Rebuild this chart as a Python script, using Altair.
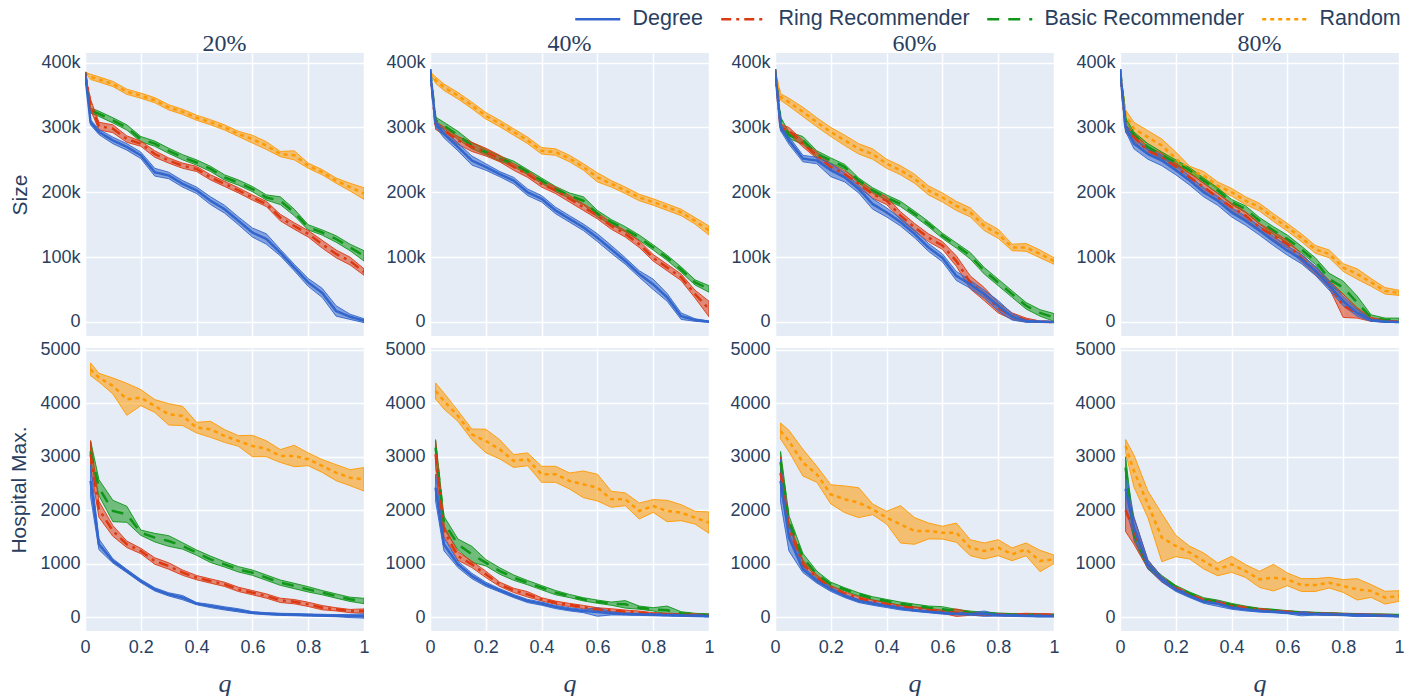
import altair as alt
import pandas as pd

# ---------------- data ----------------
q = [0.0, 0.02, 0.05, 0.1, 0.15, 0.2, 0.25, 0.3, 0.35, 0.4, 0.45, 0.5,
     0.55, 0.6, 0.65, 0.7, 0.75, 0.8, 0.85, 0.9, 0.95, 1.0]
methods = ["Degree", "Ring Recommender", "Basic Recommender", "Random"]
shares = ["20%", "40%", "60%", "80%"]
colors = ["#3366CC", "#DC3912", "#109618", "#FF9900"]
dashes = [[1, 0], [10, 5, 3, 5], [12, 9], [4, 4]]
size_ticks = [0, 100000, 200000, 300000, 400000]
hosp_ticks = [0, 1000, 2000, 3000, 4000, 5000]
x_ticks = [0, 0.2, 0.4, 0.6, 0.8, 1]

# Size (thousands)
size20_degree = [385, 308, 293, 280, 270, 257, 231, 226, 213, 203, 187, 174, 156, 138, 128, 107, 84, 61, 45, 17, 8, 2]
size20_degree_err = [0, 4, 4, 5, 5, 5, 6, 5, 5, 5, 6, 6, 6, 7, 8, 5, 5, 6, 7, 8, 4, 3]
size20_ring = [385, 335, 302, 298, 282, 275, 259, 249, 241, 236, 223, 213, 203, 192, 182, 161, 148, 136, 120, 105, 94, 77]
size20_ring_err = [0, 8, 6, 6, 5, 4, 5, 4, 4, 4, 4, 4, 4, 4, 4, 5, 5, 5, 6, 6, 6, 5]
size20_basic = [385, 326, 321, 311, 300, 282, 275, 264, 254, 246, 236, 223, 215, 205, 192, 187, 169, 146, 138, 128, 115, 102]
size20_basic_err = [0, 4, 4, 4, 4, 4, 4, 4, 4, 4, 4, 4, 4, 4, 4, 6, 5, 4, 4, 5, 5, 8]
size20_random = [385, 378, 374, 367, 355, 349, 342, 331, 324, 315, 308, 300, 290, 282, 272, 259, 257, 241, 231, 218, 208, 198]
size20_random_err = [0, 4, 4, 4, 4, 4, 4, 4, 4, 4, 4, 4, 4, 6, 6, 4, 7, 4, 4, 4, 6, 9]

size40_degree = [390, 306, 290, 270, 249, 239, 228, 218, 200, 190, 172, 159, 146, 130, 112, 94, 74, 58, 38, 9, 3, 0.5]
size40_degree_err = [0, 5, 6, 6, 7, 5, 4, 5, 5, 5, 5, 5, 5, 6, 6, 5, 5, 8, 6, 5, 2, 1]
size40_ring = [390, 303, 295, 280, 270, 262, 252, 239, 228, 213, 203, 190, 177, 164, 148, 136, 120, 99, 84, 69, 43, 20]
size40_ring_err = [0, 6, 6, 6, 7, 6, 5, 5, 5, 5, 5, 5, 5, 5, 5, 5, 5, 5, 5, 5, 6, 12]
size40_basic = [390, 311, 303, 288, 272, 262, 252, 244, 231, 218, 205, 195, 187, 167, 154, 143, 130, 115, 99, 81, 61, 51]
size40_basic_err = [0, 5, 5, 6, 5, 4, 4, 4, 4, 4, 4, 4, 6, 5, 4, 4, 4, 4, 4, 4, 4, 5]
size40_random = [385, 373, 362, 349, 334, 318, 306, 293, 280, 264, 262, 252, 239, 223, 213, 203, 192, 185, 177, 169, 156, 141]
size40_random_err = [0, 5, 5, 5, 5, 5, 5, 5, 5, 5, 5, 5, 5, 7, 5, 5, 5, 5, 5, 5, 5, 7]

size60_degree = [390, 300, 280, 252, 249, 234, 223, 205, 182, 169, 154, 136, 115, 99, 71, 58, 43, 25, 8, 1.5, 0.5, 0]
size60_degree_err = [0, 5, 6, 5, 5, 10, 7, 6, 8, 7, 6, 6, 6, 6, 7, 6, 6, 8, 5, 2, 1, 0.5]
size60_ring = [390, 300, 295, 275, 257, 239, 228, 213, 197, 187, 164, 146, 130, 118, 94, 61, 43, 22, 9, 3, 0.5, 0]
size60_ring_err = [0, 5, 5, 5, 5, 5, 5, 6, 6, 6, 6, 6, 6, 6, 8, 10, 10, 8, 5, 3, 1, 0.5]
size60_basic = [390, 311, 288, 280, 259, 249, 239, 218, 203, 192, 182, 167, 151, 133, 118, 102, 79, 61, 43, 25, 14, 7]
size60_basic_err = [0, 5, 5, 6, 5, 4, 4, 4, 4, 4, 4, 4, 4, 4, 4, 5, 5, 5, 5, 5, 5, 6]
size60_random = [385, 347, 339, 324, 308, 293, 280, 267, 259, 244, 234, 221, 203, 192, 179, 169, 148, 136, 115, 115, 105, 94]
size60_random_err = [0, 5, 6, 7, 7, 7, 8, 8, 8, 7, 7, 7, 7, 7, 7, 7, 7, 7, 5, 6, 6, 5]

size80_degree = [390, 300, 275, 259, 249, 234, 218, 200, 187, 169, 156, 141, 125, 110, 97, 79, 56, 32, 14, 3, 0.5, 0]
size80_degree_err = [0, 6, 8, 8, 8, 7, 7, 7, 7, 7, 7, 7, 7, 7, 7, 7, 7, 7, 5, 2, 1, 0.5]
size80_ring = [390, 298, 285, 264, 254, 239, 223, 208, 192, 177, 164, 146, 133, 120, 99, 79, 58, 25, 14, 4, 1.5, 0.5]
size80_ring_err = [0, 6, 6, 6, 6, 6, 6, 6, 6, 6, 6, 6, 6, 6, 6, 6, 6, 18, 8, 3, 1.5, 0.5]
size80_basic = [390, 310, 288, 270, 257, 246, 234, 218, 203, 185, 174, 156, 141, 128, 112, 94, 66, 53, 30, 7, 3, 3]
size80_basic_err = [0, 5, 5, 5, 5, 4, 4, 4, 4, 4, 5, 5, 6, 6, 5, 5, 9, 10, 10, 4, 3, 3]
size80_random = [385, 319, 298, 285, 272, 252, 234, 226, 210, 200, 187, 177, 161, 146, 130, 112, 105, 84, 74, 61, 48, 45]
size80_random_err = [0, 8, 10, 10, 10, 10, 6, 6, 6, 6, 6, 6, 6, 6, 6, 6, 6, 6, 8, 6, 5, 4]

# Hospital max (no value at q = 0)
hosp20_degree = [None, 2550, 1361, 1049, 861, 674, 518, 424, 362, 250, 206, 162, 125, 81, 62, 50, 44, 37, 31, 25, 19, 19]
hosp20_degree_err = [0, 300, 100, 40, 30, 30, 30, 30, 40, 20, 30, 30, 30, 20, 20, 20, 20, 20, 20, 20, 30, 40]
hosp20_ring = [None, 3050, 2016, 1611, 1361, 1236, 1049, 955, 830, 737, 674, 612, 518, 456, 393, 312, 287, 237, 175, 144, 112, 112]
hosp20_ring_err = [0, 250, 150, 100, 60, 50, 60, 60, 50, 40, 40, 40, 40, 40, 40, 40, 40, 40, 40, 30, 30, 40]
hosp20_basic = [None, 3100, 2422, 1985, 1923, 1579, 1486, 1423, 1330, 1205, 1080, 986, 893, 830, 737, 643, 581, 518, 456, 393, 331, 300]
hosp20_basic_err = [0, 200, 150, 200, 150, 50, 80, 100, 60, 50, 60, 50, 50, 50, 50, 50, 50, 50, 40, 40, 40, 50]
hosp20_random = [None, 4638, 4482, 4326, 4076, 4108, 3951, 3795, 3764, 3546, 3514, 3390, 3296, 3202, 3150, 3015, 3015, 2953, 2828, 2703, 2609, 2578]
hosp20_random_err = [0, 120, 80, 150, 300, 150, 120, 200, 180, 100, 150, 120, 100, 200, 150, 120, 200, 120, 120, 150, 150, 220]

hosp40_degree = [None, 2422, 1361, 986, 768, 612, 499, 393, 300, 250, 187, 144, 112, 94, 69, 56, 50, 44, 37, 31, 25, 19]
hosp40_degree_err = [0, 250, 120, 60, 50, 40, 30, 30, 30, 30, 30, 30, 30, 80, 30, 20, 20, 20, 20, 20, 20, 20]
hosp40_ring = [None, 3050, 1611, 1142, 986, 799, 612, 499, 424, 331, 268, 225, 187, 144, 125, 100, 81, 62, 50, 44, 37, 31]
hosp40_ring_err = [0, 250, 100, 80, 60, 60, 40, 40, 50, 30, 30, 30, 30, 30, 30, 30, 30, 20, 20, 20, 20, 20]
hosp40_basic = [None, 3171, 1767, 1361, 1174, 1017, 861, 737, 643, 549, 456, 393, 331, 287, 250, 237, 175, 144, 125, 69, 50, 37]
hosp40_basic_err = [0, 150, 120, 100, 150, 60, 60, 50, 40, 40, 40, 30, 30, 30, 30, 70, 30, 30, 80, 30, 20, 20]
hosp40_random = [None, 4232, 4045, 3764, 3421, 3296, 3140, 2921, 2953, 2672, 2672, 2547, 2484, 2422, 2204, 2204, 1985, 2079, 1985, 1954, 1860, 1767]
hosp40_random_err = [0, 150, 150, 100, 100, 220, 180, 120, 120, 150, 150, 150, 250, 250, 150, 120, 150, 120, 200, 150, 120, 200]

hosp60_degree = [None, 2550, 1486, 893, 674, 518, 393, 300, 250, 206, 162, 125, 100, 75, 62, 56, 62, 37, 31, 25, 19, 19]
hosp60_degree_err = [0, 400, 250, 60, 40, 40, 30, 30, 30, 30, 30, 20, 20, 20, 20, 20, 50, 20, 20, 20, 20, 20]
hosp60_ring = [None, 2700, 1673, 986, 737, 549, 437, 350, 287, 237, 187, 162, 131, 100, 81, 62, 50, 44, 37, 50, 44, 37]
hosp60_ring_err = [0, 300, 100, 80, 50, 40, 30, 30, 30, 30, 30, 30, 30, 30, 70, 30, 20, 20, 20, 20, 20, 20]
hosp60_basic = [None, 2900, 1798, 1111, 799, 612, 518, 424, 350, 300, 250, 212, 175, 144, 112, 81, 69, 56, 44, 37, 37, 31]
hosp60_basic_err = [0, 200, 100, 80, 60, 40, 30, 30, 30, 30, 30, 30, 30, 50, 30, 30, 20, 20, 20, 20, 20, 20]
hosp60_random = [None, 3483, 3296, 2890, 2672, 2297, 2204, 2141, 2016, 1860, 1735, 1611, 1611, 1579, 1579, 1298, 1236, 1298, 1174, 1267, 1049, 1080]
hosp60_random_err = [0, 150, 200, 250, 150, 180, 250, 280, 100, 120, 350, 250, 150, 120, 180, 150, 150, 150, 120, 120, 200, 80]

hosp80_degree = [None, 2400, 1673, 986, 705, 518, 393, 287, 250, 175, 144, 112, 100, 81, 62, 56, 50, 44, 37, 31, 25, 19]
hosp80_degree_err = [0, 350, 200, 80, 50, 40, 30, 30, 50, 30, 30, 20, 20, 20, 40, 20, 20, 20, 30, 20, 20, 20]
hosp80_ring = [None, 2000, 1611, 986, 705, 537, 412, 312, 268, 206, 162, 137, 112, 94, 75, 62, 56, 50, 44, 37, 31, 25]
hosp80_ring_err = [0, 400, 250, 80, 50, 40, 30, 30, 30, 30, 30, 20, 20, 20, 20, 20, 20, 20, 20, 20, 20, 20]
hosp80_basic = [None, 2800, 1548, 955, 737, 562, 437, 331, 287, 225, 175, 144, 125, 100, 81, 69, 62, 50, 44, 37, 37, 31]
hosp80_basic_err = [0, 200, 120, 60, 40, 30, 30, 30, 30, 30, 30, 20, 20, 20, 20, 20, 20, 20, 20, 20, 20, 20]
hosp80_random = [None, 3202, 2734, 2110, 1486, 1330, 1205, 1049, 893, 986, 861, 705, 737, 705, 599, 599, 643, 581, 518, 487, 362, 393]
hosp80_random_err = [0, 120, 300, 250, 450, 200, 120, 150, 120, 150, 120, 150, 250, 120, 120, 120, 100, 120, 200, 120, 120, 100]

size_series = {
    "20%": [(size20_degree, size20_degree_err), (size20_ring, size20_ring_err), (size20_basic, size20_basic_err), (size20_random, size20_random_err)],
    "40%": [(size40_degree, size40_degree_err), (size40_ring, size40_ring_err), (size40_basic, size40_basic_err), (size40_random, size40_random_err)],
    "60%": [(size60_degree, size60_degree_err), (size60_ring, size60_ring_err), (size60_basic, size60_basic_err), (size60_random, size60_random_err)],
    "80%": [(size80_degree, size80_degree_err), (size80_ring, size80_ring_err), (size80_basic, size80_basic_err), (size80_random, size80_random_err)],
}
hosp_series = {
    "20%": [(hosp20_degree, hosp20_degree_err), (hosp20_ring, hosp20_ring_err), (hosp20_basic, hosp20_basic_err), (hosp20_random, hosp20_random_err)],
    "40%": [(hosp40_degree, hosp40_degree_err), (hosp40_ring, hosp40_ring_err), (hosp40_basic, hosp40_basic_err), (hosp40_random, hosp40_random_err)],
    "60%": [(hosp60_degree, hosp60_degree_err), (hosp60_ring, hosp60_ring_err), (hosp60_basic, hosp60_basic_err), (hosp60_random, hosp60_random_err)],
    "80%": [(hosp80_degree, hosp80_degree_err), (hosp80_ring, hosp80_ring_err), (hosp80_basic, hosp80_basic_err), (hosp80_random, hosp80_random_err)],
}


def make_df(series, unit):
    rows = []
    # draw Random first, Degree last (on top)
    for mi in [3, 2, 1, 0]:
        vals, errs = series[mi]
        for qi, (v, e) in enumerate(zip(vals, errs)):
            if v is None:
                continue
            rows.append({"q": q[qi], "method": methods[mi],
                         "mean": v * unit, "lo": (v - e) * unit, "hi": (v + e) * unit})
    return pd.DataFrame(rows)


TXT = "#2a3f5f"
SANS = "Liberation Sans"
SERIF = "Liberation Serif"
W, H = 279, 283


def make_legend():
    # a 45px long horizontal stroke drawn inside a 15px symbol cell
    return alt.Legend(title=None, orient="none", legendX=502, legendY=-340,
                      direction="horizontal", columns=4, symbolType="M-3,0H3",
                      symbolSize=225, symbolStrokeWidth=2.5, symbolFillColor="transparent",
                      labelFontSize=21.5, labelFont=SANS, labelColor=TXT, labelOffset=24,
                      columnPadding=12, padding=0, labelLimit=400)


def panel(df, ydom, yticks, ylabel_expr, bottom, ytitle, show_legend):
    xaxis = alt.Axis(values=x_ticks, grid=True, gridColor="white", gridWidth=1.5,
                     domain=False, ticks=False, labels=bottom, format="~g", labelFlush=False,
                     labelFontSize=18, labelColor=TXT, labelFont=SANS, labelPadding=7,
                     title="q" if bottom else None, titleFont=SERIF, titleFontStyle="italic",
                     titleFontWeight="normal", titleFontSize=26, titleColor=TXT, titlePadding=14)
    yaxis = alt.Axis(values=yticks, grid=True, gridColor="white", gridWidth=1.5,
                     domain=False, ticks=False, labelExpr=ylabel_expr, labelFontSize=18,
                     labelColor=TXT, labelFont=SANS, labelPadding=5,
                     title=ytitle, titleFont=SANS, titleFontSize=21, titleFontWeight="normal",
                     titleColor=TXT, titlePadding=10)
    xs = alt.Scale(domain=[0, 1], nice=False, zero=False)
    ys = alt.Scale(domain=ydom, nice=False, zero=False)
    base = alt.Chart(df)
    band = base.mark_area(fillOpacity=0.55, strokeWidth=1, strokeOpacity=0.9, clip=True).encode(
        x=alt.X("q:Q", scale=xs, axis=xaxis),
        y=alt.Y("lo:Q", scale=ys, axis=yaxis),
        y2="hi:Q",
        fill=alt.Fill("method:N", scale=alt.Scale(domain=methods, range=colors), legend=None),
        stroke=alt.Stroke("method:N", scale=alt.Scale(domain=methods, range=colors), legend=None),
    )
    leg = make_legend() if show_legend else None
    line = base.mark_line(strokeWidth=2.5, clip=True).encode(
        x="q:Q",
        y=alt.Y("mean:Q"),
        color=alt.Color("method:N", scale=alt.Scale(domain=methods, range=colors), legend=leg),
        strokeDash=alt.StrokeDash("method:N", scale=alt.Scale(domain=methods, range=dashes), legend=leg),
    )
    return alt.layer(band, line).properties(width=W, height=H)


size_labels = "datum.value == 0 ? '0' : format(datum.value, '~s')"
hosp_labels = "format(datum.value, 'd')"

cells = []
for ci, s in enumerate(shares):
    tp = panel(make_df(size_series[s], 1000), [-21600, 414800], size_ticks, size_labels,
               False, "Size" if ci == 0 else None, False)
    tp = tp.properties(title=alt.TitleParams(s, font=SERIF, fontSize=24, fontWeight="normal",
                                             color=TXT, offset=-3))
    cells.append(tp)
for ci, s in enumerate(shares):
    bp = panel(make_df(hosp_series[s], 1), [-262, 5037], hosp_ticks, hosp_labels,
               True, "Hospital Max." if ci == 0 else None, ci == 0)
    cells.append(bp)

chart = alt.concat(
    *cells, columns=4, spacing={"row": 12, "column": 66}, bounds="flush",
).resolve_legend(
    color="independent", strokeDash="independent"
).properties(
    background="white",
    padding={"left": 0, "top": 0, "right": 5, "bottom": 0},
).configure_view(fill="#E5ECF6", stroke=None)

chart.save("out.html", embed_options={"renderer": "svg", "actions": False})
